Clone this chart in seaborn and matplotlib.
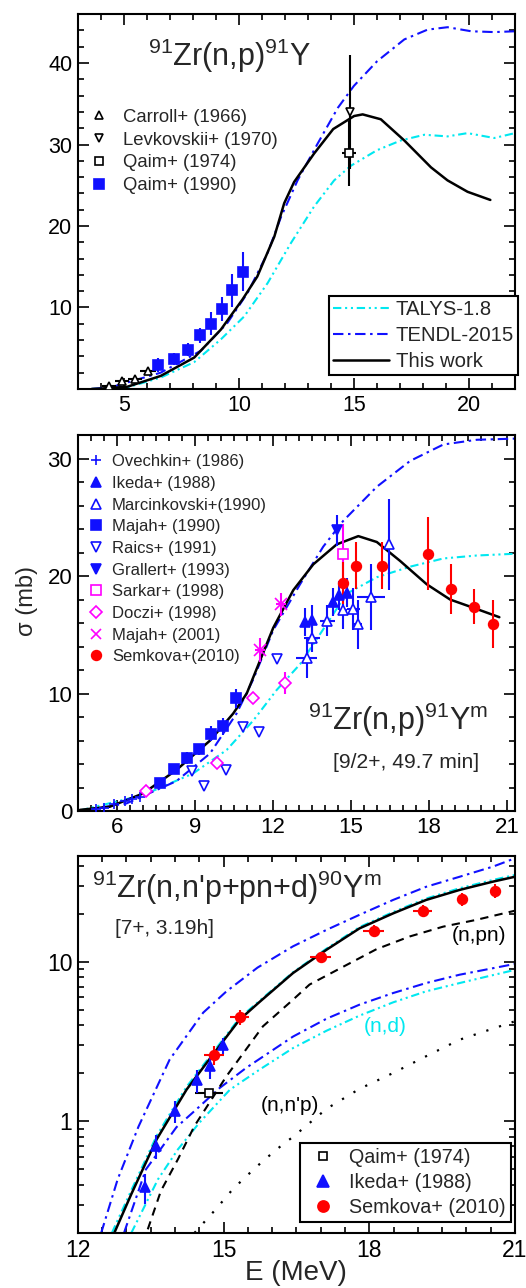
import matplotlib
matplotlib.use("Agg")
import matplotlib.pyplot as plt
import seaborn as sns
from matplotlib.ticker import MultipleLocator, FixedLocator, LogLocator, NullFormatter, FixedFormatter
from matplotlib.lines import Line2D

# ---------------- Panel 1: 91Zr(n,p)91Y ----------------
p1_carroll_E = [4.35, 4.93, 5.5, 6.06]
p1_carroll_s = [0.33, 0.94, 1.2, 2.2]
p1_carroll_xerr = [0.3, 0.3, 0.3, 0.35]

p1_levk_E = [14.84]
p1_levk_s = [34.0]
p1_levk_err = [7.0]

p1_qaim74_E = [14.77]
p1_qaim74_s = [28.9]
p1_qaim74_err = [4.0]
p1_qaim74_xerr = [0.3]

p1_qaim90_E = [6.5, 7.2, 7.77, 8.29, 8.78, 9.25, 9.7, 10.17]
p1_qaim90_s = [2.96, 3.7, 4.8, 6.6, 8.0, 9.8, 12.1, 14.4]
p1_qaim90_err = [0.9, 0.7, 0.8, 0.9, 1.4, 1.5, 2.0, 2.4]

p1_this_E = [3.6, 4.0, 5.16, 6.6, 8.06, 9.22, 10.16, 10.8, 11.54, 11.97, 12.4, 13.27,
             14.1, 15.01, 15.38, 16.17, 17.19, 18.35, 19.07, 19.94, 20.93]
p1_this_s = [0.0, 0.05, 0.28, 1.6, 3.86, 7.3, 11.0, 13.8, 18.7, 22.8, 25.4, 28.9,
             31.9, 33.5, 33.7, 33.1, 30.5, 27.2, 25.6, 24.2, 23.2]
p1_tendl_E = [3.6, 4.43, 6.6, 8.35, 9.5, 10.38, 11.25, 11.83, 12.55, 13.42, 14.3, 15.0,
              16.0, 17.19, 18.2, 19.07, 20.1, 21.1, 22.0]
p1_tendl_s = [0.0, 0.2, 2.0, 4.7, 8.1, 11.8, 16.7, 21.1, 25.6, 30.1, 34.5, 37.2,
              40.2, 42.9, 44.1, 44.4, 43.9, 43.8, 43.9]
p1_talys_E = [3.6, 5.16, 6.6, 8.06, 9.22, 10.23, 11.25, 12.26, 13.27, 14.14, 14.87,
              16.0, 17.04, 18.06, 19.07, 19.94, 21.1, 22.0]
p1_talys_s = [0.0, 0.2, 1.4, 3.3, 6.1, 8.9, 13.0, 17.9, 22.4, 25.6, 27.4,
              29.3, 30.5, 31.2, 31.0, 31.4, 30.8, 31.4]

# ---------------- Panel 2: 91Zr(n,p)91Ym ----------------
p2_ovech_E = [5.2, 5.5, 5.9, 6.3, 6.6, 6.9]
p2_ovech_s = [0.15, 0.3, 0.6, 0.85, 1.0, 1.2]
p2_ovech_err = [0.2, 0.2, 0.2, 0.2, 0.2, 0.2]

p2_ikeda_E = [13.23, 13.49, 14.32, 14.55, 14.83]
p2_ikeda_s = [16.1, 16.3, 17.8, 18.35, 18.6]
p2_ikeda_err = [1.2, 1.2, 1.2, 1.2, 1.2]

p2_marc_E = [13.3, 13.51, 14.09, 14.68, 15.09, 15.28, 15.76, 16.47]
p2_marc_s = [13.06, 14.76, 16.2, 17.1, 17.2, 15.9, 18.2, 22.7]
p2_marc_err = [1.7, 1.25, 1.3, 1.6, 1.8, 2.1, 2.8, 3.9]
p2_marc_xerr = [0.4, 0.3, 0.3, 0.15, 0.25, 0.15, 0.53, 0.1]

p2_majah90_E = [7.67, 8.19, 8.68, 9.15, 9.62, 10.09, 10.58]
p2_majah90_s = [2.35, 3.57, 4.5, 5.24, 6.6, 7.2, 9.6]
p2_majah90_err = [0.3, 0.4, 0.5, 0.5, 0.6, 0.7, 0.8]

p2_raics_E = [8.87, 9.36, 10.18, 10.86, 11.47, 12.17]
p2_raics_s = [3.4, 2.15, 3.5, 7.16, 6.7, 12.9]

p2_grall_E = [14.45]
p2_grall_s = [23.9]
p2_grall_err = [1.3]

p2_sarkar_E = [14.68]
p2_sarkar_s = [21.9]
p2_sarkar_err = [2.5]

p2_doczi_E = [7.11, 9.83, 11.24, 12.45]
p2_doczi_s = [1.7, 4.1, 9.6, 10.9]
p2_doczi_err = [0.3, 0.4, 0.5, 0.9]

p2_majah01_E = [11.5, 12.3]
p2_majah01_s = [13.7, 17.6]
p2_majah01_err = [1.0, 1.0]

p2_semk_E = [14.7, 15.19, 16.18, 17.95, 18.85, 19.74, 20.44]
p2_semk_s = [19.4, 20.9, 20.9, 21.9, 18.9, 17.4, 15.9]
p2_semk_err = [1.8, 2.0, 2.0, 3.1, 2.1, 1.5, 2.05]

p2_this_E = [4.58, 5.73, 7.01, 8.29, 9.58, 10.47, 10.99, 11.5, 12.01, 12.78, 13.55,
             14.45, 15.28, 15.99, 16.88, 17.91, 18.81, 19.83, 20.7]
p2_this_s = [0.1, 0.37, 1.5, 3.5, 6.0, 8.3, 10.0, 12.8, 15.6, 18.8, 21.0,
             22.7, 23.4, 22.9, 21.3, 19.3, 18.0, 17.2, 16.5]
p2_tendl_E = [4.58, 6.37, 8.29, 9.58, 10.6, 11.24, 12.01, 13.04, 13.93, 14.7, 15.99,
              17.27, 18.55, 19.83, 21.3]
p2_tendl_s = [0.0, 0.65, 2.55, 4.9, 8.3, 11.2, 15.4, 19.3, 22.5, 24.7, 27.6,
              29.8, 31.2, 31.6, 31.7]
p2_talys_E = [4.58, 7.01, 8.93, 10.22, 11.24, 12.14, 13.04, 14.06, 14.83, 15.99,
              17.27, 18.55, 19.83, 21.3]
p2_talys_s = [0.05, 1.36, 3.2, 5.2, 7.7, 10.3, 12.5, 15.9, 18.5, 19.9,
              20.8, 21.5, 21.75, 21.9]

# ---------------- Panel 3: 91Zr(n,n'p+pn+d)90Ym ----------------
p3_qaim_E = [14.7]
p3_qaim_s = [1.5]
p3_qaim_err = [0.08]
p3_qaim_xerr = [0.29]

p3_ikeda_E = [13.38, 13.6, 14.0, 14.46, 14.72, 14.99]
p3_ikeda_s = [0.386, 0.70, 1.16, 1.81, 2.24, 3.0]
p3_ikeda_err = [0.08, 0.12, 0.18, 0.3, 0.4, 0.35]

p3_semk_E = [14.8, 15.33, 17.0, 18.09, 19.1, 19.91, 20.59]
p3_semk_s = [2.6, 4.49, 10.7, 15.6, 20.9, 24.8, 27.9]
p3_semk_err = [0.35, 0.5, 0.9, 1.3, 1.9, 2.3, 2.8]
p3_semk_xerr = [0.2, 0.2, 0.22, 0.22, 0.2, 0.06, 0.05]

p3_this_E = [12.75, 13.1, 13.62, 14.0, 14.24, 14.78, 15.33, 15.74, 16.43, 17.12, 17.8,
             18.49, 19.17, 19.86, 20.55, 21.0]
p3_this_s = [0.2, 0.35, 0.77, 1.2, 1.585, 2.62, 4.34, 5.6, 8.5, 11.9, 16.2,
             20.1, 24.4, 28.2, 31.8, 34.1]
p3_talys_E = [12.7, 13.1, 13.62, 14.0, 14.24, 14.78, 15.33, 15.74, 16.43, 17.12, 17.8,
              18.49, 19.17, 19.86, 20.55, 21.0]
p3_talys_s = [0.2, 0.37, 0.81, 1.26, 1.65, 2.7, 4.45, 5.7, 8.6, 12.1, 16.5,
              20.5, 24.9, 28.9, 32.6, 35.0]
p3_tendl_E = [12.48, 12.82, 13.25, 13.89, 14.58, 15.06, 15.7, 16.43, 17.12, 17.8,
              18.49, 19.17, 19.86, 20.55, 21.0]
p3_tendl_s = [0.2, 0.434, 0.93, 2.44, 4.8, 6.53, 9.2, 12.5, 15.85, 19.7,
              24.4, 29.5, 34.1, 39.5, 44.5]
p3_nd_tendl_E = [12.95, 13.4, 14.03, 14.44, 14.92, 15.47, 16.43, 17.12, 17.8, 18.49,
                 19.17, 19.86, 21.0]
p3_nd_tendl_s = [0.2, 0.5, 0.92, 1.19, 1.62, 2.17, 3.4, 4.4, 5.39, 6.37,
                 7.36, 8.3, 9.7]
p3_nd_talys_E = [13.1, 13.65, 14.06, 14.5, 15.13, 15.74, 16.43, 17.12, 17.8, 18.49,
                 19.17, 19.86, 21.0]
p3_nd_talys_s = [0.2, 0.434, 0.668, 0.98, 1.58, 2.11, 2.88, 3.7, 4.6, 5.57,
                 6.53, 7.36, 8.9]
p3_npn_E = [13.44, 13.71, 14.06, 14.4, 15.06, 15.81, 16.43, 16.77, 17.46, 18.15,
            18.83, 19.52, 20.2, 21.0]
p3_npn_s = [0.211, 0.367, 0.579, 0.935, 1.92, 3.94, 5.79, 7.2, 9.3, 12.0,
            14.4, 16.6, 18.3, 20.9]
p3_nnp_E = [14.4, 14.85, 15.16, 15.4, 15.81, 16.22, 16.43, 17.12, 17.8, 18.49,
            19.17, 19.86, 21.0]
p3_nnp_s = [0.2, 0.284, 0.367, 0.434, 0.565, 0.718, 0.8, 1.2, 1.6, 2.01,
            2.56, 3.25, 4.24]

# ---------------- style ----------------
sns.set_theme(style="ticks")
plt.rcParams["font.family"] = ["Liberation Sans", "DejaVu Sans"]
plt.rcParams["mathtext.fontset"] = "custom"
plt.rcParams["mathtext.rm"] = "Liberation Sans"
plt.rcParams["mathtext.it"] = "Liberation Sans:italic"
plt.rcParams["mathtext.bf"] = "Liberation Sans:bold"

BLUE = "#1010ff"
CYAN = "#00e8f0"
RED = "#ff0000"
MAG = "#ff00ff"

LS_TALYS = (0, (4, 1.8, 1, 1.8, 1, 1.8))
LS_TENDL = (0, (5, 2.2, 1.2, 2.2))
LS_DASH = (0, (4, 3))
LS_DOT = (0, (1, 5))

fig = plt.figure(figsize=(5.26, 12.88), dpi=100)
ax1 = fig.add_axes([0.148, 0.698, 0.831, 0.291])
ax2 = fig.add_axes([0.148, 0.3703, 0.831, 0.2919])
ax3 = fig.add_axes([0.148, 0.0427, 0.831, 0.2927])


def curve(ax, x, y, color, ls, lw=1.5, z=2):
    sns.lineplot(x=x, y=y, ax=ax, color=color, linestyle=ls, linewidth=lw,
                 estimator=None, errorbar=None, sort=False, zorder=z, legend=False)


def pts(ax, x, y, marker, color, filled=True, ms=6.5, yerr=None, xerr=None, ecolor=None, z=5):
    ax.errorbar(x, y, yerr=yerr, xerr=xerr, fmt=marker, color=color,
                ecolor=ecolor if ecolor else color,
                mfc=color if filled else "white", mec=color, ms=ms, mew=1.2,
                elinewidth=1.5, capsize=0, zorder=z)


def style_axis(ax, lab=16):
    for sp in ax.spines.values():
        sp.set_linewidth(1.5)
        sp.set_color("black")
    ax.tick_params(which="both", direction="in", top=True, right=True,
                   width=1.2, colors="black", labelsize=lab, pad=4)
    ax.tick_params(which="major", length=8)
    ax.tick_params(which="minor", length=4)
    ax.set_xlabel("")
    ax.set_ylabel("")


def boxed(leg):
    fr = leg.get_frame()
    fr.set_edgecolor("black")
    fr.set_linewidth(1.5)
    fr.set_facecolor("white")
    fr.set_alpha(1)


# ----- Panel 1 -----
curve(ax1, p1_talys_E, p1_talys_s, CYAN, LS_TALYS)
curve(ax1, p1_tendl_E, p1_tendl_s, BLUE, LS_TENDL)
curve(ax1, p1_this_E, p1_this_s, "black", "-", lw=1.8, z=3)
pts(ax1, p1_carroll_E, p1_carroll_s, "^", "black", filled=False, ms=6, xerr=p1_carroll_xerr)
pts(ax1, p1_levk_E, p1_levk_s, "v", "black", filled=False, ms=6, yerr=p1_levk_err)
pts(ax1, p1_qaim74_E, p1_qaim74_s, "s", "black", filled=False, ms=5.5,
    yerr=p1_qaim74_err, xerr=p1_qaim74_xerr)
pts(ax1, p1_qaim90_E, p1_qaim90_s, "s", BLUE, ms=7, yerr=p1_qaim90_err, xerr=0.15)

ax1.set_xlim(3, 22)
ax1.set_ylim(0, 46)
ax1.xaxis.set_major_locator(FixedLocator([5, 10, 15, 20]))
ax1.xaxis.set_minor_locator(MultipleLocator(1))
ax1.yaxis.set_major_locator(FixedLocator([10, 20, 30, 40]))
ax1.yaxis.set_minor_locator(MultipleLocator(2))
style_axis(ax1, 15.5)

ax1.text(0.16, 0.89, r"$^{91}$Zr(n,p)$^{91}$Y", transform=ax1.transAxes,
         fontsize=22, ha="left", va="center")

h_data1 = [
    Line2D([], [], marker="^", ls="none", color="black", mfc="white", ms=6, mew=1.2),
    Line2D([], [], marker="v", ls="none", color="black", mfc="white", ms=6, mew=1.2),
    Line2D([], [], marker="s", ls="none", color="black", mfc="white", ms=5.5, mew=1.2),
    Line2D([], [], marker="s", ls="none", color=BLUE, mfc=BLUE, ms=7, mew=1.2),
]
l_data1 = ["Carroll+ (1966)", "Levkovskii+ (1970)", "Qaim+ (1974)", "Qaim+ (1990)"]
leg1a = ax1.legend(h_data1, l_data1, loc="upper left", bbox_to_anchor=(0.027, 0.748),
                   frameon=False, fontsize=13.3, handlelength=1.0, handletextpad=0.8,
                   labelspacing=0.32, borderpad=0, borderaxespad=0)
ax1.add_artist(leg1a)

h_curve = [
    Line2D([], [], color=CYAN, ls=LS_TALYS, lw=1.5),
    Line2D([], [], color=BLUE, ls=LS_TENDL, lw=1.5),
    Line2D([], [], color="black", ls="-", lw=1.8),
]
l_curve = ["TALYS-1.8", "TENDL-2015", "This work"]
leg1b = ax1.legend(h_curve, l_curve, loc="lower right", bbox_to_anchor=(1.007, 0.037),
                   frameon=True, fancybox=False, fontsize=14.6, handlelength=2.75,
                   handletextpad=0.35, labelspacing=0.34, borderpad=0.2, borderaxespad=0)
boxed(leg1b)

# ----- Panel 2 -----
curve(ax2, p2_talys_E, p2_talys_s, CYAN, LS_TALYS)
curve(ax2, p2_tendl_E, p2_tendl_s, BLUE, LS_TENDL)
curve(ax2, p2_this_E, p2_this_s, "black", "-", lw=1.8, z=3)

pts(ax2, p2_ovech_E, p2_ovech_s, "+", BLUE, ms=7, yerr=p2_ovech_err)
pts(ax2, p2_ikeda_E, p2_ikeda_s, "^", BLUE, ms=7, yerr=p2_ikeda_err)
pts(ax2, p2_marc_E, p2_marc_s, "^", BLUE, filled=False, ms=7, yerr=p2_marc_err, xerr=p2_marc_xerr)
pts(ax2, p2_majah90_E, p2_majah90_s, "s", BLUE, ms=7, yerr=p2_majah90_err, xerr=0.1)
pts(ax2, p2_raics_E, p2_raics_s, "v", BLUE, filled=False, ms=7)
pts(ax2, p2_grall_E, p2_grall_s, "v", BLUE, ms=7, yerr=p2_grall_err)
pts(ax2, p2_sarkar_E, p2_sarkar_s, "s", MAG, filled=False, ms=6.5, yerr=p2_sarkar_err)
pts(ax2, p2_doczi_E, p2_doczi_s, "D", MAG, filled=False, ms=6.5, yerr=p2_doczi_err)
pts(ax2, p2_majah01_E, p2_majah01_s, "x", MAG, ms=8, yerr=p2_majah01_err, xerr=0.2)
pts(ax2, p2_semk_E, p2_semk_s, "o", RED, ms=7, yerr=p2_semk_err, xerr=0.1)

ax2.set_xlim(4.5, 21.3)
ax2.set_ylim(0, 32)
ax2.xaxis.set_major_locator(FixedLocator([6, 9, 12, 15, 18, 21]))
ax2.xaxis.set_minor_locator(MultipleLocator(0.5))
ax2.yaxis.set_major_locator(FixedLocator([0, 10, 20, 30]))
ax2.yaxis.set_minor_locator(MultipleLocator(2))
style_axis(ax2, 16)

h_data2 = [
    Line2D([], [], marker="+", ls="none", color=BLUE, ms=7, mew=1.2),
    Line2D([], [], marker="^", ls="none", color=BLUE, mfc=BLUE, ms=7, mew=1.2),
    Line2D([], [], marker="^", ls="none", color=BLUE, mfc="white", ms=7, mew=1.2),
    Line2D([], [], marker="s", ls="none", color=BLUE, mfc=BLUE, ms=7, mew=1.2),
    Line2D([], [], marker="v", ls="none", color=BLUE, mfc="white", ms=7, mew=1.2),
    Line2D([], [], marker="v", ls="none", color=BLUE, mfc=BLUE, ms=7, mew=1.2),
    Line2D([], [], marker="s", ls="none", color=MAG, mfc="white", ms=6.5, mew=1.2),
    Line2D([], [], marker="D", ls="none", color=MAG, mfc="white", ms=6.5, mew=1.2),
    Line2D([], [], marker="x", ls="none", color=MAG, ms=7, mew=1.2),
    Line2D([], [], marker="o", ls="none", color=RED, mfc=RED, ms=7, mew=1.2),
]
l_data2 = ["Ovechkin+ (1986)", "Ikeda+ (1988)", "Marcinkovski+(1990)", "Majah+ (1990)",
           "Raics+ (1991)", "Grallert+ (1993)", "Sarkar+ (1998)", "Doczi+ (1998)",
           "Majah+ (2001)", "Semkova+(2010)"]
ax2.legend(h_data2, l_data2, loc="upper left", bbox_to_anchor=(0.022, 0.949),
           frameon=False, fontsize=12, handlelength=1.0, handletextpad=0.46,
           labelspacing=0.4, borderpad=0, borderaxespad=0)

ax2.text(0.526, 0.242, r"$^{91}$Zr(n,p)$^{91}$Y$^{\mathrm{m}}$", transform=ax2.transAxes,
         fontsize=22, ha="left", va="center")
ax2.text(0.584, 0.128, "[9/2+, 49.7 min]", transform=ax2.transAxes,
         fontsize=15.2, ha="left", va="center")

# ----- Panel 3 -----
ax3.set_yscale("log")
curve(ax3, p3_tendl_E, p3_tendl_s, BLUE, LS_TENDL)
curve(ax3, p3_talys_E, p3_talys_s, CYAN, LS_TALYS)
curve(ax3, p3_nd_tendl_E, p3_nd_tendl_s, BLUE, LS_TENDL)
curve(ax3, p3_nd_talys_E, p3_nd_talys_s, CYAN, LS_TALYS)
curve(ax3, p3_npn_E, p3_npn_s, "black", LS_DASH, lw=1.5)
curve(ax3, p3_nnp_E, p3_nnp_s, "black", LS_DOT, lw=1.6)
curve(ax3, p3_this_E, p3_this_s, "black", "-", lw=1.8, z=3)

pts(ax3, p3_qaim_E, p3_qaim_s, "s", "black", filled=False, ms=5.5,
    yerr=p3_qaim_err, xerr=p3_qaim_xerr)
pts(ax3, p3_ikeda_E, p3_ikeda_s, "^", BLUE, ms=7, yerr=p3_ikeda_err)
pts(ax3, p3_semk_E, p3_semk_s, "o", RED, ms=7, yerr=p3_semk_err, xerr=p3_semk_xerr)

ax3.set_xlim(12, 21)
ax3.set_ylim(0.2, 46)
ax3.xaxis.set_major_locator(FixedLocator([12, 15, 18, 21]))
ax3.xaxis.set_minor_locator(MultipleLocator(0.5))
ax3.yaxis.set_major_locator(FixedLocator([1, 10]))
ax3.yaxis.set_major_formatter(FixedFormatter(["1", "10"]))
ax3.yaxis.set_minor_locator(LogLocator(base=10, subs=[2, 3, 4, 5, 6, 7, 8, 9]))
ax3.yaxis.set_minor_formatter(NullFormatter())
style_axis(ax3, 16.5)

ax3.text(0.032, 0.915, r"$^{91}$Zr(n,n'p+pn+d)$^{90}$Y$^{\mathrm{m}}$", transform=ax3.transAxes,
         fontsize=22, ha="left", va="center")
ax3.text(0.085, 0.809, "[7+, 3.19h]", transform=ax3.transAxes,
         fontsize=15, ha="left", va="center")
ax3.text(20.27, 14.7, "(n,pn)", fontsize=15, ha="center", va="center", color="black")
ax3.text(18.32, 3.95, "(n,d)", fontsize=15, ha="center", va="center", color=CYAN)
ax3.text(16.36, 1.25, "(n,n'p)", fontsize=15, ha="center", va="center", color="black")

h_data3 = [
    Line2D([], [], marker="s", ls="none", color="black", mfc="white", ms=6, mew=1.2),
    Line2D([], [], marker="^", ls="none", color=BLUE, mfc=BLUE, ms=8, mew=1.2),
    Line2D([], [], marker="o", ls="none", color=RED, mfc=RED, ms=8, mew=1.2),
]
l_data3 = ["Qaim+ (1974)", "Ikeda+ (1988)", "Semkova+ (2010)"]
leg3 = ax3.legend(h_data3, l_data3, loc="lower right", bbox_to_anchor=(0.991, 0.029),
                  frameon=True, fancybox=False, fontsize=14.2, handlelength=1.8,
                  handletextpad=0.45, labelspacing=0.32, borderpad=0.25, borderaxespad=0)
boxed(leg3)

fig.text(0.051, 0.533, "σ (mb)", rotation=90, fontsize=17, ha="center", va="center")
fig.text(296 / 526, 1 - 1273 / 1288, "E (MeV)", fontsize=20, ha="center", va="center")

fig.savefig("out.png", dpi=100, facecolor="white")
